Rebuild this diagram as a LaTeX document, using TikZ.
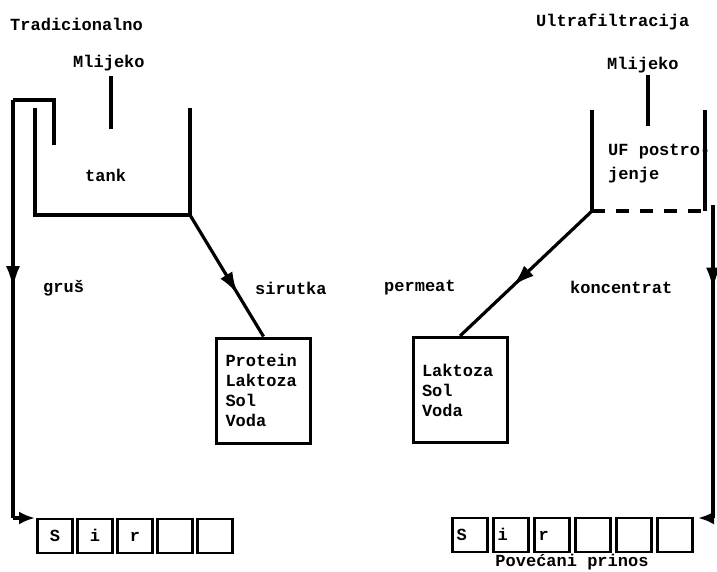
\documentclass[tikz,border=0pt]{standalone}
\usepackage{fontspec}
\setmonofont{Liberation Mono}
\usetikzlibrary{arrows.meta, positioning, decorations.markings}

\begin{document}
\begin{tikzpicture}[
    x=1pt, y=-1pt,
    font=\ttfamily\bfseries\fontsize{17}{20}\selectfont,
    pipe/.style={line width=3.2pt},
    flow/.style={line width=3.2pt, postaction={decorate},
      decoration={markings, mark=at position #1 with {\arrow{Latex[length=22pt,width=14pt]}}}},
    tip/.style={line width=3.2pt, -{Latex[length=16pt,width=13pt]}},
    lbl/.style={anchor=west, inner sep=0pt},
    prodbox/.style={rectangle, draw, line width=3pt, minimum width=94pt, minimum height=105pt, text width=76pt, align=left, inner sep=9pt},
    cell/.style={rectangle, draw, line width=2.6pt, minimum width=35pt, minimum height=34pt, inner sep=3pt, text height=11pt, text depth=1pt}
]
    \useasboundingbox (0,0) rectangle (717,571);

    % left: traditional
    \node[lbl] (trad) at (10,24) {Tradicionalno};
    \node[lbl] (milkL) at (73,63) {Mlijeko};
    \coordinate (inL) at (111,129);
    \draw[pipe] (111,76) -- (inL);
    \coordinate (tankTL) at (35,108);
    \coordinate (tankBL) at (35,215);
    \coordinate (tankBR) at (190,215);
    \coordinate (tankTR) at (190,108);
    \draw[pipe] (tankTL) -- (tankBL) -- (tankBR) -- (tankTR);
    \node[lbl] (tank) at (85,175) {tank};

    \coordinate (curdTop) at (54,145);
    \coordinate (curdL) at (13,100);
    \coordinate (curdB) at (13,518);
    \coordinate (curdE) at (35,518);
    \draw[pipe] (curdTop) |- (curdL);
    \draw[flow=0.45] (curdL) -- (curdB);
    \draw[tip] (curdB) -- (curdE);
    \node[lbl] (grus) at (43,288) {gruš};

    \node[prodbox] (whey) at (263.5,390.5) {Protein\\Laktoza\\Sol\\Voda};
    \draw[flow=0.65] (tankBR) -- (whey.north);
    \node[lbl] (sirutka) at (255,288) {sirutka};

    \foreach \i/\c in {1/S,2/i,3/r,4/,5/} {
      \node[cell] (sirL\i) at ({55+40*(\i-1)},536) {\c};
    }

    % right: ultrafiltration
    \node[lbl] (uf) at (536,22) {Ultrafiltracija};
    \node[lbl] (milkR) at (607,65) {Mlijeko};
    \coordinate (inR) at (648,126);
    \draw[pipe] (648,75) -- (inR);
    \coordinate (ufTL) at (592,110);
    \coordinate (ufBL) at (592,211);
    \coordinate (ufBR) at (705,211);
    \coordinate (ufTR) at (705,110);
    \draw[pipe] (ufTL) -- (ufBL);
    \draw[pipe] (ufTR) -- (ufBR);
    \draw[pipe, dash pattern=on 13pt off 11pt] (ufBL) -- (ufBR);
    \node[lbl] (ufplant) at (608,152) {UF postro-};
    \node[lbl] (ufplant2) at (608,175) {jenje};

    \coordinate (concT) at (713,205);
    \coordinate (concB) at (713,518);
    \coordinate (concE) at (698,518);
    \draw[flow=0.27] (concT) -- (concB);
    \draw[tip] (concB) -- (concE);
    \node[lbl] (konc) at (570,287) {koncentrat};

    \node[prodbox] (perm) at (460,390) {Laktoza\\Sol\\Voda};
    \draw[flow=0.6] (ufBL) -- (perm.north);
    \node[lbl] (permeat) at (384,288) {permeat};

    \foreach \i/\c in {1/S,2/i,3/r,4/,5/,6/} {
      \node[cell, text width=27pt, align=left] (sirR\i) at ({470+41*(\i-1)},535) {\c};
    }
    \node[inner sep=0pt] (prinos) at (572,562) {Povećani prinos};
\end{tikzpicture}
\end{document}
